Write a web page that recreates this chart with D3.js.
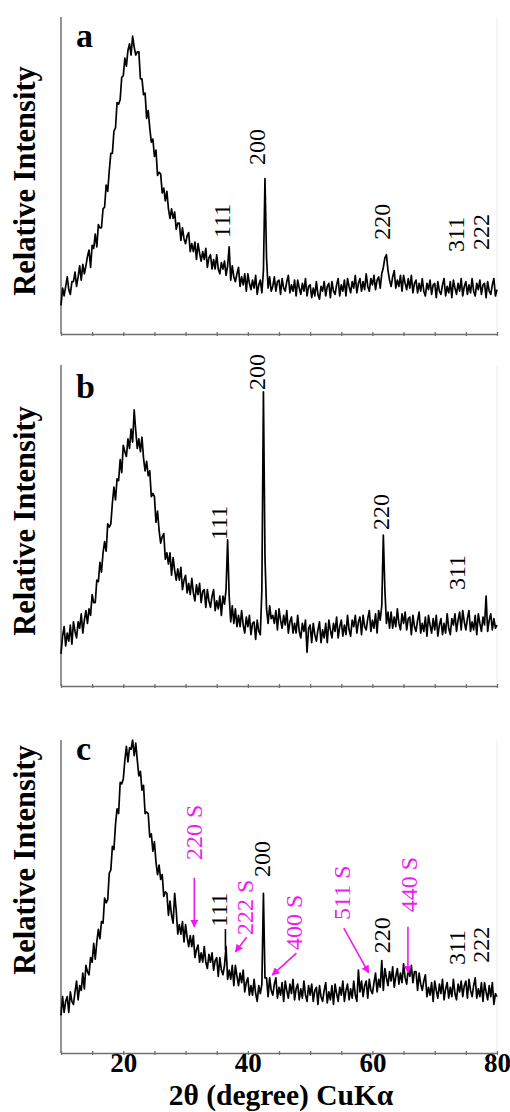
<!DOCTYPE html>
<html>
<head>
<meta charset="utf-8">
<script src="https://cdn.jsdelivr.net/npm/d3@7"></script>
<style>
  html, body { margin: 0; padding: 0; background: #fff; }
  svg { display: block; }
</style>
</head>
<body>
<div id="chart"></div>
<script>
// ── Scan grid: 2θ from 10° to 80°, one reading every 0.25° ──
const angleStart = 10;
const angleStep = 0.25;

// ── Relative intensity (0 = axis, 100 = top of panel) ──
// one row per degree: x.00, x.25, x.50, x.75
const intensityA = [
  9, 14.5, 12, 15,         // 10
  18, 14, 12.5, 16.5,      // 11
  16.5, 19.5, 15, 18,      // 12
  21.5, 17, 22, 19,        // 13
  21.5, 24.5, 26.5, 21,    // 14
  28, 27, 31.5, 27.5,      // 15
  34.5, 33.5, 33.5, 39.5,  // 16
  40, 47, 45, 51.5,        // 17
  57, 57, 64, 65,          // 18
  73, 72.5, 74, 81,        // 19
  81.5, 87, 84.5, 89.5,    // 20
  91.5, 88, 94, 90.5,      // 21
  88, 89, 89, 80.5,        // 22
  80.5, 75.5, 76, 68,      // 23
  70.5, 65, 60.5, 61.5,    // 24
  56, 58, 50, 51,          // 25
  50.5, 44.5, 46, 42,      // 26
  45, 39.5, 36.5, 39.5,    // 27
  36.5, 38.5, 33, 35,      // 28
  35, 29.5, 33.5, 30,      // 29
  28.5, 31, 32, 26,        // 30
  28.5, 26, 29, 23.5,      // 31
  28.5, 25.5, 23, 26,      // 32
  23.5, 27, 21, 24,        // 33
  25, 20.5, 23.5, 20.5,    // 34
  25, 20.5, 19, 22.5,      // 35
  20.5, 23, 18.5, 21.5,    // 36
  27.5, 17, 21.5, 18,      // 37
  16.5, 19, 21, 15,        // 38
  18, 15.5, 19, 13.5,      // 39
  19, 16, 14, 17,          // 40
  14.5, 18.5, 12.5, 15.5,  // 41
  17, 13, 20, 49,          // 42
  24, 14.5, 18, 13.5,      // 43
  15, 18, 13.5, 16.5,      // 44
  17, 12.5, 17.5, 14.5,    // 45
  13.5, 16.5, 18.5, 13,    // 46
  15.5, 13.5, 17, 12,      // 47
  17, 14.5, 12.5, 16,      // 48
  13.5, 17.5, 12, 15,      // 49
  15.5, 11.5, 14.5, 12,    // 50
  16.5, 12.5, 11, 15,      // 51
  13.5, 16.5, 12, 15,      // 52
  16, 11.5, 16.5, 13.5,    // 53
  12.5, 15.5, 17.5, 12,    // 54
  15.5, 13.5, 17, 12,      // 55
  17.5, 15, 13, 16.5,      // 56
  14.5, 18.5, 13, 16,      // 57
  17.5, 13.5, 16.5, 14,    // 58
  19, 15, 13.5, 17.5,      // 59
  15.5, 18.5, 14, 17,      // 60
  18, 14.5, 19, 21,        // 61
  24, 25, 20, 17,          // 62
  15, 18, 20, 14.5,        // 63
  17, 15, 18.5, 13.5,      // 64
  18.5, 16, 14, 17.5,      // 65
  14.5, 18.5, 13, 16,      // 66
  17, 13, 16, 13.5,        // 67
  17.5, 13.5, 12, 16,      // 68
  14, 17, 12.5, 15.5,      // 69
  16, 11.5, 16.5, 13.5,    // 70
  12.5, 15.5, 17.5, 12,    // 71
  15, 13, 16.5, 11.5,      // 72
  17, 14.5, 12.5, 16,      // 73
  13.5, 17.5, 12, 15,      // 74
  16.5, 12.5, 15.5, 13,    // 75
  17.5, 13.5, 12, 16,      // 76
  14, 17, 12.5, 15.5,      // 77
  16, 11.5, 16.5, 13.5,    // 78
  12.5, 15.5, 17.5, 12,    // 79
  14                       // 80
];

const intensityB = [
  10, 15.5, 18.5, 12.5,    // 10
  16.5, 14, 19, 13,        // 11
  20, 17, 15, 20,          // 12
  18, 22.5, 16.5, 20.5,    // 13
  23.5, 19.5, 24, 22,      // 14
  28.5, 26, 26, 33,        // 15
  32.5, 38.5, 35.5, 41.5,  // 16
  45, 42, 50.5, 49.5,      // 17
  50.5, 57, 62, 58,        // 18
  64.5, 64, 70.5, 66.5,    // 19
  75, 73, 71.5, 77,        // 20
  74, 80, 76, 86,          // 21
  79.5, 74, 77, 73,        // 22
  77.5, 71, 67, 70,        // 23
  65.5, 67, 59, 60,        // 24
  59, 51, 54.5, 48.5,      // 25
  44.5, 46.5, 47.5, 39.5,  // 26
  41.5, 38, 41.5, 34.5,    // 27
  40, 36, 33, 36.5,        // 28
  33, 37, 30, 33,          // 29
  34.5, 29, 32, 28.5,      // 30
  33.5, 29, 26.5, 31.5,    // 31
  28.5, 32, 26, 29.5,      // 32
  30, 24.5, 30, 26.5,      // 33
  24.5, 28, 30, 23.5,      // 34
  26.5, 24, 28, 22,        // 35
  28, 25.5, 30, 45.5,      // 36
  28, 20, 25, 19.5,        // 37
  24, 18.5, 22, 18.5,      // 38
  23.5, 19, 16.5, 21.5,    // 39
  18.5, 22, 16, 19.5,      // 40
  20, 14.5, 20.5, 17,      // 41
  16, 30, 91.6, 40,        // 42
  24, 19.5, 25, 21,        // 43
  22, 19.5, 23.5, 17.5,    // 44
  24, 20.5, 18, 22,        // 45
  19, 23.5, 16.5, 20,      // 46
  21.5, 16.5, 19.5, 16.5,  // 47
  22, 17, 15, 19.5,        // 48
  17, 20.5, 10.5, 18,      // 49
  19, 13.5, 19.5, 16,      // 50
  14, 17.5, 20, 13.5,      // 51
  17.5, 15, 19.5, 13.5,    // 52
  20.5, 17.5, 15, 19.5,    // 53
  17, 21.5, 15, 18.5,      // 54
  20.5, 15.5, 19, 16,      // 55
  22, 17.5, 15.5, 20.5,    // 56
  18.5, 22, 16.5, 20,      // 57
  21.5, 16, 22, 18.5,      // 58
  17.5, 21, 23.5, 17,      // 59
  20.5, 18, 22.5, 16.5,    // 60
  23.5, 20.5, 25, 47,      // 61
  30, 19.5, 23, 18,        // 62
  23, 18, 21.5, 18.5,      // 63
  24, 19.5, 17.5, 22.5,    // 64
  19.5, 23, 17.5, 21,      // 65
  21.5, 16, 22, 18.5,      // 66
  17, 20.5, 23, 16.5,      // 67
  19.5, 17, 21.5, 15.5,    // 68
  22, 19, 16.5, 21,        // 69
  17.5, 22, 15.5, 19,      // 70
  21, 16, 19.5, 16.5,      // 71
  22.5, 18, 16, 21,        // 72
  19, 22.5, 17, 20.5,      // 73
  23, 17.5, 23.5, 20,      // 74
  17.5, 21, 23.5, 17,      // 75
  20, 17.5, 22, 16,        // 76
  22.5, 19.5, 17, 21.5,    // 77
  19, 28, 17, 20.5,        // 78
  22.5, 17.5, 21, 18,      // 79
  19                       // 80
];

const intensityC = [
  12, 18, 13, 16.5,        // 10
  18, 13, 19.5, 16.5,      // 11
  15.5, 19.5, 23, 17,      // 12
  21.5, 20, 25.5, 20.5,    // 13
  28, 26, 25, 30.5,        // 14
  29, 35, 30, 35.5,        // 15
  39.5, 36.5, 42, 41.5,    // 16
  49.5, 48, 49, 57.5,      // 17
  58.5, 66, 65, 73,        // 18
  78, 76.5, 86.5, 86,      // 19
  87.5, 93.5, 98, 93,      // 20
  97.5, 97, 100, 95,       // 21
  99, 93.5, 88.5, 90,      // 22
  84, 85.5, 76.5, 77,      // 23
  76.5, 69, 70, 64.5,      // 24
  67.5, 61, 57, 60,        // 25
  55.5, 57, 50, 51.5,      // 26
  51, 44, 48.5, 44,        // 27
  41.5, 51, 45.5, 38,      // 28
  41, 38, 42, 35.5,        // 29
  41, 37, 34, 37.5,        // 30
  34, 37.5, 30.5, 33,      // 31
  34.5, 29, 32, 29,        // 32
  34, 29, 27, 31.5,        // 33
  29, 32, 26.5, 29.5,      // 34
  30.5, 24.5, 30.5, 26.5,  // 35
  25, 28, 34, 23.5,        // 36
  26.5, 23.5, 28, 21.5,    // 37
  28, 24.5, 21.5, 25.5,    // 38
  22.5, 26.5, 19.5, 22.5,  // 39
  24, 18.5, 21.5, 18.5,    // 40
  23.5, 19, 16.5, 21.5,    // 41
  19, 22, 51, 24,          // 42
  24, 18, 24, 20,          // 43
  18.5, 22, 24, 17.5,      // 44
  21, 18.5, 22.5, 16.5,    // 45
  23, 20, 17.5, 22,        // 46
  19, 23.5, 17, 20.5,      // 47
  22, 17, 20.5, 17.5,      // 48
  23, 18.5, 16.5, 21.5,    // 49
  18.5, 22, 16.5, 20,      // 50
  21, 15.5, 21.5, 18,      // 51
  16.5, 20, 22.5, 16,      // 52
  19.5, 17, 21.5, 15.5,    // 53
  22, 19, 16.5, 21,        // 54
  18.5, 23, 16.5, 20,      // 55
  22, 17, 20.5, 17.5,      // 56
  23, 18.5, 16.5, 26.5,    // 57
  19.5, 23, 18, 21.5,      // 58
  23, 17.5, 23.5, 20,      // 59
  19, 22.5, 25.5, 19.5,    // 60
  23.5, 21, 29.5, 20,      // 61
  27, 24, 21.5, 26,        // 62
  23, 27.5, 21, 24.5,      // 63
  27, 22, 25.5, 22.5,      // 64
  28.5, 24, 22, 27,        // 65
  24.5, 28, 22.5, 26,      // 66
  26, 20, 25.5, 22,        // 67
  20, 23, 25, 18,          // 68
  21, 18.5, 22.5, 16.5,    // 69
  23, 20, 17.5, 22,        // 70
  19, 23.5, 17, 20.5,      // 71
  22.5, 17.5, 21, 18,      // 72
  23.5, 19, 17, 22,        // 73
  19.5, 23, 18, 21.5,      // 74
  23, 17.5, 23.5, 20,      // 75
  18, 21.5, 24, 17.5,      // 76
  20.5, 18, 22.5, 16.5,    // 77
  22.5, 19.5, 17, 21.5,    // 78
  18, 22.5, 15.5, 19,      // 79
  18                       // 80
];

// ── Axis ticks ──
const tickAngles = [10, 15, 20, 25, 30, 35, 40, 45, 50, 55, 60, 65, 70, 75, 80];
const tickLabels = [20, 40, 60, 80];

// ── Reflection labels: text, 2θ position, intensity at the foot of the label ──
const hklA = ['111', '200', '220', '311', '222'];
const hklAngleA = [35.8, 41.5, 61.5, 73.4, 77.5];
const hklLevelA = [30.3, 53.3, 29.7, 25.9, 26.5];

const hklB = ['111', '200', '220', '311'];
const hklAngleB = [35.4, 41.5, 61.4, 73.5];
const hklLevelB = [45.5, 92.2, 48.6, 29.9];

const hklC = ['111', '200', '220', '311', '222'];
const hklAngleC = [35.4, 42.3, 61.5, 73.5, 77.5];
const hklLevelC = [40.3, 56.2, 31.9, 28.1, 28.8];

// spinel (S) reflections marked in panel c
const spinelC = ['220 S', '222 S', '400 S', '511 S', '440 S'];
const spinelAngleC = [31.4, 39.6, 47.4, 55.1, 65.8];
const spinelLevelC = [61.7, 37.7, 32.9, 42.5, 45];
// arrows: from (angle, level) to (angle, level)
const spinelArrowFrom = [[31.4, 56], [39.8, 37], [47.8, 31.9], [55.4, 39.9], [65.7, 40.3]];
const spinelArrowTo = [[31.4, 40.3], [38.0, 32.3], [43.9, 24.9], [59.4, 25.6], [65.7, 25.6]];
// short leader under the 111 label
const leaderC = [[36.4, 39.6], [36.4, 32.9]];

// ── Layout ──
const W = 510, H = 1112;
const plotLeft = 61, plotRight = 497;
const magenta = '#f01af0';
const axisGray = '#707070';
const serif = '"Liberation Serif", "Times New Roman", Times, serif';

const panels = [
  { letter: 'a', values: intensityA, top: 17, bottom: 334, letterY: 47, titleY: 181, hkl: hklA, hklAngle: hklAngleA, hklLevel: hklLevelA },
  { letter: 'b', values: intensityB, top: 365, bottom: 686, letterY: 398, titleY: 521, hkl: hklB, hklAngle: hklAngleB, hklLevel: hklLevelB },
  { letter: 'c', values: intensityC, top: 740, bottom: 1053, letterY: 760, titleY: 860, hkl: hklC, hklAngle: hklAngleC, hklLevel: hklLevelC, labelled: true }
];

const svg = d3.select('#chart').append('svg')
  .attr('width', W).attr('height', H)
  .attr('font-family', serif);

svg.append('rect').attr('width', W).attr('height', H).attr('fill', '#fff');

svg.append('defs').append('marker')
  .attr('id', 'arrowhead')
  .attr('viewBox', '0 0 10 10')
  .attr('refX', 9).attr('refY', 5)
  .attr('markerWidth', 5).attr('markerHeight', 5)
  .attr('orient', 'auto-start-reverse')
  .append('path')
  .attr('d', 'M0,0 L10,5 L0,10 Z')
  .attr('fill', magenta);

const x = d3.scaleLinear().domain([10, 80]).range([plotLeft, plotRight]);

function addText(g, t) {
  return g.append('text').style('font-family', serif).text(t);
}

panels.forEach(function(p) {
  const y = d3.scaleLinear().domain([0, 100]).range([p.bottom, p.top]);
  const g = svg.append('g').attr('class', 'panel-' + p.letter);

  // faint right edge of the original frame
  g.append('line')
    .attr('x1', plotRight).attr('x2', plotRight)
    .attr('y1', p.top).attr('y2', p.bottom)
    .attr('stroke', '#ececec').attr('stroke-width', 1);

  // y axis (no ticks)
  g.append('line')
    .attr('x1', plotLeft).attr('x2', plotLeft)
    .attr('y1', p.top).attr('y2', p.bottom)
    .attr('stroke', axisGray).attr('stroke-width', 1.5);

  // x axis, tick marks every 5°, numbers only on the bottom panel
  const xAxis = d3.axisBottom(x)
    .tickValues(tickAngles)
    .tickSize(2)
    .tickSizeOuter(0)
    .tickFormat(function(d) { return p.labelled && tickLabels.indexOf(d) >= 0 ? d : ''; });

  const ax = g.append('g')
    .attr('transform', 'translate(0,' + p.bottom + ')')
    .call(xAxis)
    .attr('font-family', serif);
  ax.select('.domain').attr('stroke', axisGray).attr('stroke-width', 1.5);
  ax.selectAll('.tick line').attr('y1', -2).attr('y2', 2)
    .attr('stroke', axisGray).attr('stroke-width', 1.3);
  ax.selectAll('.tick text').filter(function() { return this.textContent === ''; }).remove();
  ax.selectAll('.tick text')
    .attr('y', 19).attr('dy', 0)
    .attr('fill', '#000')
    .style('font-family', serif)
    .style('font-weight', 'bold')
    .style('font-size', '27px');

  // trace
  const line = d3.line()
    .x(function(d, i) { return x(angleStart + i * angleStep); })
    .y(function(d) { return y(d); });

  g.append('path')
    .datum(p.values)
    .attr('d', line)
    .attr('fill', 'none')
    .attr('stroke', '#000')
    .attr('stroke-width', 1.7)
    .attr('stroke-linejoin', 'round');

  // panel letter
  addText(g, p.letter)
    .attr('x', 76).attr('y', p.letterY)
    .style('font-weight', 'bold').style('font-size', '34px');

  // y title
  addText(g, 'Relative Intensity')
    .attr('transform', 'translate(35,' + p.titleY + ') rotate(-90)')
    .attr('text-anchor', 'middle')
    .style('font-weight', 'bold').style('font-size', '30.5px');

  // reflection labels
  p.hkl.forEach(function(t, i) {
    addText(g, t)
      .attr('transform', 'translate(' + (x(p.hklAngle[i]) + 8) + ',' + y(p.hklLevel[i]) + ') rotate(-90)')
      .style('font-size', '24px')
      .attr('fill', '#000');
  });

  if (p.letter === 'c') {
    spinelC.forEach(function(t, i) {
      addText(g, t)
        .attr('transform', 'translate(' + (x(spinelAngleC[i]) + 8) + ',' + y(spinelLevelC[i]) + ') rotate(-90)')
        .style('font-size', '24px')
        .attr('fill', magenta);
      g.append('line')
        .attr('x1', x(spinelArrowFrom[i][0])).attr('y1', y(spinelArrowFrom[i][1]))
        .attr('x2', x(spinelArrowTo[i][0])).attr('y2', y(spinelArrowTo[i][1]))
        .attr('stroke', magenta).attr('stroke-width', 1.6)
        .attr('marker-end', 'url(#arrowhead)');
    });
    g.append('line')
      .attr('x1', x(leaderC[0][0])).attr('y1', y(leaderC[0][1]))
      .attr('x2', x(leaderC[1][0])).attr('y2', y(leaderC[1][1]))
      .attr('stroke', '#000').attr('stroke-width', 1.6);
  }
});

// x title
addText(svg, '2θ (degree) CuKα')
  .attr('x', 281).attr('y', 1105)
  .attr('text-anchor', 'middle')
  .style('font-weight', 'bold').style('font-size', '29.5px');
</script>
</body>
</html>
